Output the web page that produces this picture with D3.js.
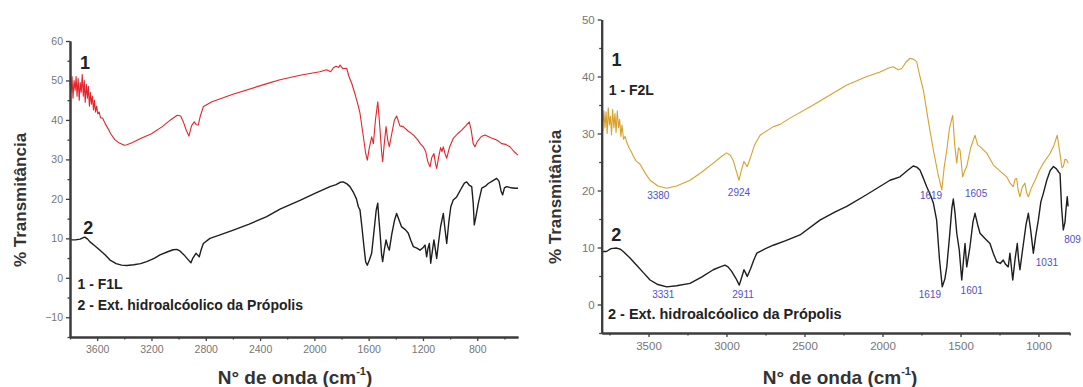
<!DOCTYPE html>
<html>
<head>
<meta charset="utf-8">
<script src="https://cdn.jsdelivr.net/npm/d3@7"></script>
<style>
  html, body { margin: 0; padding: 0; background: #fff; }
  svg { display: block; font-family: "Liberation Sans", Arial, sans-serif; }
</style>
</head>
<body>
<div id="chart"></div>
<script>
// FTIR spectra: [wavenumber, %T]

// Left panel: 1 - F1L (red)
const f1l = [
  [3800, 49.5], [3792, 47], [3785, 51], [3778, 45.5], [3770, 50], [3762, 47.5], [3755, 51],
  [3748, 46], [3740, 50.5], [3732, 45], [3725, 49.5], [3717, 47], [3710, 51.5], [3702, 46],
  [3695, 50], [3688, 44.5], [3680, 49], [3672, 45.5], [3665, 48.5], [3657, 43.5], [3650, 47],
  [3642, 44], [3635, 46], [3627, 42.5], [3620, 45], [3612, 42], [3604, 43.5], [3595, 41.5],
  [3585, 42], [3575, 40.5], [3560, 40.5], [3540, 39], [3520, 37.8], [3500, 36.5], [3470, 35],
  [3440, 34.2], [3400, 33.6], [3380, 33.7], [3340, 34.3], [3280, 35.3], [3200, 36.5],
  [3120, 38.3], [3060, 40], [3010, 41.2], [2985, 41], [2965, 39.5], [2945, 37.5], [2924, 35.9],
  [2905, 38.5], [2885, 39.5], [2870, 38.8], [2855, 38.7], [2840, 41], [2817, 43.4],
  [2754, 44.6], [2600, 46.5], [2349, 49.2], [2253, 50.2], [2096, 51.4], [1960, 52.2],
  [1909, 52.7], [1880, 52.2], [1860, 53.2], [1840, 53.6], [1820, 53.3], [1811, 53.9],
  [1790, 53], [1762, 53.1], [1745, 51], [1725, 49.3], [1700, 46.5], [1680, 44], [1664, 41.7],
  [1640, 36], [1622, 31.5], [1610, 29.8], [1595, 33], [1578, 35.7], [1565, 34], [1550, 40],
  [1533, 44.6], [1524, 41], [1516, 37.4], [1505, 32], [1497, 29.4], [1485, 34], [1472, 38.3],
  [1460, 35], [1448, 33.2], [1430, 36.5], [1410, 40], [1394, 41], [1370, 38.5], [1345, 38.3],
  [1310, 37.2], [1271, 36.2], [1240, 35], [1220, 34], [1198, 33.2], [1180, 32], [1165, 29.5],
  [1148, 28.1], [1135, 30.5], [1119, 31.5], [1108, 29], [1099, 27.7], [1085, 30.5],
  [1070, 33], [1060, 32], [1050, 33.2], [1038, 31.5], [1025, 30.3], [1005, 33], [977, 35.3],
  [945, 36.5], [915, 37.4], [885, 38.5], [859, 39.5], [845, 37.5], [830, 34], [817, 33.2],
  [800, 34.5], [770, 35.8], [743, 36.2], [700, 35.5], [657, 34.9], [620, 34], [590, 33.8],
  [559, 33.2], [530, 32], [500, 31.1]
];

// Left panel: 2 - Ext. hidroalcoólico (black)
const extLeft = [
  [3800, 9.6], [3760, 9.6], [3726, 9.8], [3700, 10.2], [3690, 10.3], [3670, 9.8], [3653, 9.1],
  [3620, 8.2], [3579, 7], [3540, 5.8], [3505, 4.5], [3460, 3.6], [3420, 3.2], [3382, 3.1],
  [3330, 3.3], [3280, 3.6], [3235, 4.1], [3180, 4.9], [3137, 5.8], [3080, 6.6], [3040, 7.1],
  [3014, 7.2], [2990, 6.8], [2960, 5.8], [2935, 4.8], [2909, 3.8], [2895, 5], [2872, 6.2],
  [2860, 5.8], [2848, 5.3], [2835, 7], [2818, 8.7], [2769, 10], [2700, 10.8], [2597, 12.1],
  [2480, 13.6], [2351, 15.5], [2253, 17.4], [2106, 19.6], [2000, 21.3], [1885, 23.1],
  [1840, 23.6], [1810, 24.2], [1787, 24.3], [1760, 23.8], [1738, 23.1], [1710, 21.5],
  [1690, 20], [1676, 18], [1664, 17.2], [1650, 13], [1635, 8], [1622, 4], [1610, 3.2],
  [1595, 4.5], [1578, 6.2], [1560, 12], [1545, 17], [1533, 18.9], [1525, 15], [1516, 11.3],
  [1505, 6], [1497, 4.1], [1485, 7], [1472, 9.6], [1460, 8], [1448, 7], [1430, 11],
  [1410, 14.5], [1394, 16.3], [1375, 14.5], [1357, 12.9], [1330, 12.2], [1308, 11.3],
  [1290, 9.5], [1271, 7.9], [1245, 7.5], [1222, 7], [1200, 7.6], [1185, 8.3], [1173, 5.3],
  [1163, 7.5], [1153, 8.7], [1143, 3.7], [1130, 7], [1119, 9.6], [1108, 7], [1099, 4.9],
  [1085, 9], [1070, 13], [1050, 16.3], [1040, 13], [1025, 8.7], [1010, 14], [995, 18],
  [977, 19.7], [952, 20.5], [920, 22.5], [895, 24], [878, 24.3], [860, 23.5], [841, 23.1],
  [830, 19], [822, 13.4], [810, 15.5], [792, 18.9], [767, 22.7], [740, 23.2], [719, 23.9],
  [690, 24.5], [657, 25.2], [640, 24.5], [625, 22], [613, 21], [600, 22.8], [584, 23.1],
  [550, 22.8], [520, 22.7], [500, 22.7]
];

// Right panel: 1 - F2L (orange)
const f2l = [
  [3800, 32.5], [3793, 30.5], [3786, 34], [3779, 31], [3772, 33.8], [3765, 30], [3758, 34.5],
  [3751, 31.5], [3744, 33], [3737, 29.8], [3730, 34.2], [3722, 31], [3715, 33.5], [3708, 30.2],
  [3700, 34], [3692, 31], [3685, 32.5], [3677, 29.5], [3670, 31.5], [3660, 29], [3650, 29.5],
  [3640, 28.5], [3625, 27.5], [3610, 26.8], [3597, 26], [3580, 25.2], [3554, 24.6],
  [3520, 23], [3490, 21.8], [3440, 20.8], [3383, 20.4], [3320, 20.8], [3234, 21.8],
  [3160, 23.2], [3085, 24.8], [3030, 26], [2999, 26.6], [2975, 26.2], [2956, 25.2],
  [2938, 23.5], [2920, 21.8], [2905, 23.5], [2888, 25.1], [2875, 24.5], [2867, 24.2],
  [2856, 25], [2845, 25.9], [2820, 28], [2785, 29.7], [2700, 31.2], [2657, 31.6],
  [2593, 32.7], [2444, 35], [2229, 38.5], [2100, 40], [2016, 40.8], [1960, 41.5],
  [1931, 41.7], [1900, 41.2], [1877, 41.4], [1850, 42.5], [1824, 43.2], [1800, 43],
  [1781, 42.6], [1760, 40], [1738, 37.6], [1705, 32], [1674, 27.1], [1645, 23], [1620, 20.1],
  [1605, 24], [1588, 27.1], [1570, 31], [1550, 33.2], [1537, 28], [1524, 24.8], [1513, 27.5],
  [1503, 27.1], [1486, 22.4], [1472, 23.5], [1460, 24.2], [1435, 27.5], [1407, 29.7],
  [1390, 28], [1375, 27.7], [1330, 26.5], [1290, 24.5], [1250, 23.5], [1204, 22.4],
  [1180, 21.2], [1162, 20.7], [1150, 22], [1140, 22.1], [1130, 20], [1119, 18.9],
  [1105, 20.5], [1087, 21.3], [1075, 19.5], [1065, 18.9], [1045, 20.5], [1022, 21.8],
  [995, 23.5], [969, 24.8], [926, 26.5], [900, 28], [880, 29.7], [865, 27], [850, 24],
  [841, 24.2], [830, 25.5], [820, 25.4], [810, 24.8]
];

// Right panel: 2 - Ext. hidroalcoólico (black)
const extRight = [
  [3800, 9.3], [3770, 9.3], [3740, 9.8], [3704, 9.9], [3680, 9.7], [3662, 9.3], [3620, 8.2],
  [3576, 6.9], [3530, 5.5], [3490, 4.3], [3440, 3.5], [3383, 3.1], [3320, 3.3], [3234, 3.7],
  [3160, 4.8], [3085, 6.1], [3040, 6.6], [3010, 6.9], [2990, 6.6], [2967, 5.8], [2940, 4.6],
  [2918, 3.4], [2900, 5], [2888, 6.1], [2877, 5.5], [2867, 4.9], [2856, 5.6], [2845, 6.3],
  [2825, 7.8], [2806, 9], [2750, 9.8], [2700, 10.4], [2620, 11.2], [2529, 12.2],
  [2401, 14.8], [2300, 16.3], [2229, 17.2], [2100, 19.3], [1952, 21.8], [1888, 22.4],
  [1840, 23.5], [1803, 24.3], [1780, 24.1], [1760, 23.6], [1740, 22.3], [1717, 20.7],
  [1690, 19], [1674, 17.8], [1653, 14.8], [1635, 8], [1617, 3.1], [1600, 4.5], [1588, 6.6],
  [1570, 12], [1555, 17], [1546, 18.5], [1535, 16], [1524, 12.5], [1508, 9.6], [1492, 4.3],
  [1480, 8], [1471, 10.7], [1460, 6.6], [1440, 10], [1420, 14.5], [1407, 16], [1390, 14],
  [1375, 12.5], [1340, 11.5], [1311, 10.7], [1290, 9], [1268, 7.5], [1245, 7.2], [1226, 7.8],
  [1210, 7], [1194, 6.6], [1183, 9], [1165, 4.3], [1150, 8], [1136, 10.7], [1128, 8],
  [1119, 6.1], [1100, 10], [1080, 14], [1065, 16], [1050, 13], [1033, 9], [1018, 12],
  [1001, 14.8], [985, 18], [969, 19.5], [947, 21.8], [925, 23.5], [904, 24.2], [885, 23.8],
  [870, 23.2], [862, 23], [852, 17], [841, 13.1], [830, 14.5], [824, 16.6], [816, 18.9],
  [810, 17.2]
];

// Peak labels on the right panel: [text, wavenumber, %T] (text centre)
const peakLabels = [
  ['3380', 3437, 19.2], ['2924', 2920, 19.6], ['1619', 1689, 19.2], ['1605', 1400, 19.4],
  ['3331', 3405, 1.8], ['2911', 2894, 1.8], ['1619', 1696, 1.7], ['1601', 1428, 2.5],
  ['1031', 946, 7.3]
];
// right-edge label, anchored at its end so it stays inside the picture
const edgeLabel = ['809', 728, 11.4];

// Axis ticks
const leftXMajor = [3600, 3200, 2800, 2400, 2000, 1600, 1200, 800];
const leftXMinor = [3800, 3400, 3000, 2600, 2200, 1800, 1400, 1000, 600];
const leftYMajor = [-10, 0, 10, 20, 30, 40, 50, 60];
const leftYMinor = [-15, -5, 5, 15, 25, 35, 45, 55];
const rightXMajor = [3500, 3000, 2500, 2000, 1500, 1000];
const rightXMinor = [3750, 3250, 2750, 2250, 1750, 1250, 800];
const rightYMajor = [0, 10, 20, 30, 40, 50];
const rightYMinor = [-5, 5, 15, 25, 35, 45];

const W = 1083, H = 387;
const svg = d3.select('#chart').append('svg')
  .attr('width', W).attr('height', H)
  .attr('viewBox', [0, 0, W, H]);

svg.append('rect').attr('width', W).attr('height', H).attr('fill', '#fff');

const AXIS = '#3c3c3c';
const TICKTXT = '#767676';
const fmt = d3.format('d');

function panel(cfg) {
  const x = d3.scaleLinear().domain(cfg.xDomain).range(cfg.xRange);
  const y = d3.scaleLinear().domain(cfg.yDomain).range(cfg.yRange);
  const g = svg.append('g');

  const line = d3.line().x(d => x(d[0])).y(d => y(d[1]));
  cfg.series.forEach(s => {
    g.append('path').datum(s.data)
      .attr('d', line)
      .attr('fill', 'none')
      .attr('stroke', s.color)
      .attr('stroke-width', s.width)
      .attr('stroke-linejoin', 'round');
  });

  // axes on top: major with labels, then minor marks
  const xa = svg.append('g')
    .attr('transform', `translate(0,${cfg.yRange[0]})`)
    .call(d3.axisBottom(x).tickValues(cfg.xMajor).tickFormat(fmt)
      .tickSize(4).tickSizeOuter(0).tickPadding(5));
  const ya = svg.append('g')
    .attr('transform', `translate(${cfg.xRange[0]},0)`)
    .call(d3.axisLeft(y).tickValues(cfg.yMajor).tickFormat(fmt)
      .tickSize(4).tickSizeOuter(0).tickPadding(3));
  svg.append('g')
    .attr('transform', `translate(0,${cfg.yRange[0]})`)
    .call(d3.axisBottom(x).tickValues(cfg.xMinor).tickSize(2.5).tickSizeOuter(0).tickFormat(() => ''));
  svg.append('g')
    .attr('transform', `translate(${cfg.xRange[0]},0)`)
    .call(d3.axisLeft(y).tickValues(cfg.yMinor).tickSize(2.5).tickSizeOuter(0).tickFormat(() => ''));

  [xa, ya].forEach(a => a.selectAll('text')
    .attr('fill', TICKTXT).attr('font-size', cfg.tickFont)
    .attr('font-family', '"Liberation Sans", Arial, sans-serif'));

  // axis titles
  g.append('text')
    .attr('transform', `translate(${cfg.yTitleX},${cfg.yTitleY}) rotate(-90)`)
    .attr('text-anchor', 'middle')
    .attr('font-size', 17).attr('font-weight', 'bold').attr('fill', '#333')
    .text('% Transmitância');
  const xt = g.append('text')
    .attr('x', cfg.xTitleX).attr('y', 384)
    .attr('text-anchor', 'middle')
    .attr('font-size', 19).attr('font-weight', 'bold').attr('fill', '#333');
  xt.append('tspan').text('N° de onda (cm');
  xt.append('tspan').attr('font-size', 11).attr('dy', -9).text('-1');
  xt.append('tspan').attr('dy', 9).text(')');

  return { g, x, y };
}

const left = panel({
  xDomain: [3800, 500], xRange: [70, 518],
  yDomain: [-15, 60], yRange: [337, 41],
  xMajor: leftXMajor, xMinor: leftXMinor, yMajor: leftYMajor, yMinor: leftYMinor,
  tickFont: 10.5,
  yTitleX: 26, yTitleY: 200, xTitleX: 295,
  series: [
    { data: f1l, color: '#e3242b', width: 1.1 },
    { data: extLeft, color: '#1e1e1e', width: 1.4 }
  ]
});

const right = panel({
  xDomain: [3800, 800], xRange: [601.7, 1069.7],
  yDomain: [-5, 50], yRange: [333, 19.5],
  xMajor: rightXMajor, xMinor: rightXMinor, yMajor: rightYMajor, yMinor: rightYMinor,
  tickFont: 11.5,
  yTitleX: 561, yTitleY: 197, xTitleX: 840,
  series: [
    { data: f2l, color: '#d9a02c', width: 1.1 },
    { data: extRight, color: '#1e1e1e', width: 1.4 }
  ]
});

// all axis strokes: grey and a little heavy, like the scanned figure
svg.selectAll('.domain').attr('stroke', AXIS).attr('stroke-width', 2);
svg.selectAll('.tick line').attr('stroke', AXIS).attr('stroke-width', 1.3);

// series numbers and legends
function label(p, txt, wn, t, size, anchor) {
  p.g.append('text')
    .attr('x', p.x(wn)).attr('y', p.y(t))
    .attr('dy', '0.35em')
    .attr('text-anchor', anchor || 'middle')
    .attr('font-size', size).attr('font-weight', 'bold').attr('fill', '#222')
    .text(txt);
}

label(left, '1', 3690, 54.6, 18);
label(left, '2', 3665, 12.6, 18);
label(left, '1 - F1L', 3745, -1.6, 14, 'start');
label(left, '2 - Ext. hidroalcóolico da Própolis', 3745, -6.8, 14, 'start');

label(right, '1', 3705, 42.9, 18);
label(right, '1 - F2L', 3755, 37.6, 14, 'start');
label(right, '2', 3706, 12.3, 18);
label(right, '2 - Ext. hidroalcóolico da Própolis', 3760, -1.6, 14.5, 'start');

// blue peak annotations
right.g.selectAll('text.peak')
  .data(peakLabels)
  .join('text')
  .attr('class', 'peak')
  .attr('x', d => right.x(d[1]))
  .attr('y', d => right.y(d[2]))
  .attr('dy', '0.35em')
  .attr('text-anchor', 'middle')
  .attr('font-size', 10).attr('fill', '#5050cc')
  .text(d => d[0]);

right.g.append('text')
  .attr('x', right.x(edgeLabel[1]))
  .attr('y', right.y(edgeLabel[2]))
  .attr('dy', '0.35em')
  .attr('text-anchor', 'end')
  .attr('font-size', 10).attr('fill', '#5050cc')
  .text(edgeLabel[0]);
</script>
</body>
</html>
